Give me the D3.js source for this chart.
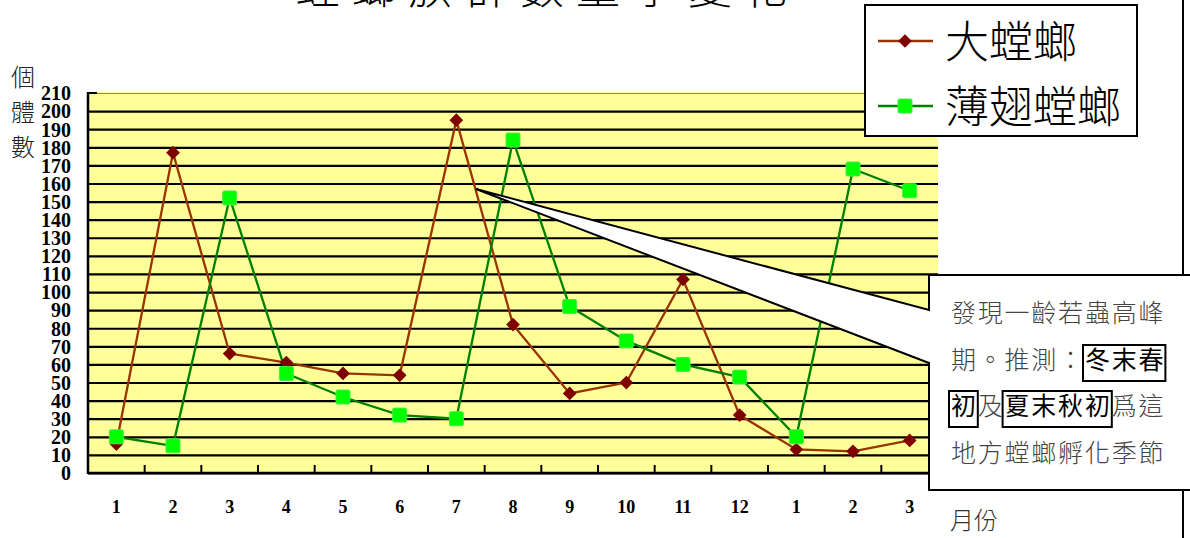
<!DOCTYPE html>
<html>
<head>
<meta charset="utf-8">
<script src="https://cdn.jsdelivr.net/npm/d3@7"></script>
<style>
  html, body { margin: 0; padding: 0; background: #fff; }
  svg { display: block; }
</style>
</head>
<body>
<svg id="chart" width="1190" height="538"></svg>
<script>
// Months of observation (Jan of one year through Mar of the next)
const months = ["1","2","3","4","5","6","7","8","9","10","11","12","1","2","3"];
// Monthly counts of individuals
const bigMantis = [16, 177, 66, 61, 55, 54, 195, 82, 44, 50, 107, 32, 13, 12, 18];
const thinWingMantis = [20, 15, 152, 55, 42, 32, 30, 184, 92, 73, 60, 53, 20, 168, 156];
const seriesNames = ["大螳螂", "薄翅螳螂"];
const yTicks = d3.range(0, 211, 10);

const svg = d3.select("#chart");
const W = 1190, H = 538;
const plot = { left: 88, right: 938, top: 92, bottom: 473 };

const x = d3.scaleBand().domain(d3.range(months.length)).range([plot.left, plot.right]).padding(0);
const y = d3.scaleLinear().domain([0, 210]).range([plot.bottom, plot.top + 1]);
const cx = i => x(i) + x.bandwidth() / 2;

// plot background
svg.append("rect")
  .attr("x", plot.left).attr("y", plot.top)
  .attr("width", plot.right - plot.left).attr("height", plot.bottom - plot.top)
  .attr("fill", "#ffff99");

// horizontal gridlines + y tick labels
const yAxis = d3.axisLeft(y).tickValues(yTicks).tickSize(-(plot.right - plot.left)).tickPadding(17);
const gy = svg.append("g").attr("transform", `translate(${plot.left},0)`).call(yAxis);
gy.select(".domain").remove();
gy.selectAll(".tick line")
  .attr("stroke", d => d === 210 ? "#8a8a60" : "#000")
  .attr("stroke-width", d => d === 210 ? 1 : 2.2);
gy.selectAll(".tick text")
  .attr("font-family", "'Liberation Serif', 'DejaVu Serif', serif")
  .attr("font-weight", "bold")
  .attr("font-size", 20)
  .attr("fill", "#000")
  .attr("dy", "0.34em");

// short inner tick at the top of the value axis
svg.append("line").attr("x1", plot.left).attr("x2", plot.left + 9)
  .attr("y1", y(210)).attr("y2", y(210)).attr("stroke", "#000").attr("stroke-width", 2);

// axis lines
svg.append("line").attr("x1", plot.left).attr("x2", plot.left)
  .attr("y1", plot.top).attr("y2", plot.bottom + 1).attr("stroke", "#000").attr("stroke-width", 2.5);
svg.append("line").attr("x1", plot.left).attr("x2", plot.right)
  .attr("y1", plot.bottom).attr("y2", plot.bottom).attr("stroke", "#000").attr("stroke-width", 2.5);

// category ticks between months (pointing up into the plot)
svg.append("g").selectAll("line")
  .data(d3.range(1, months.length))
  .join("line")
  .attr("x1", i => x(i)).attr("x2", i => x(i))
  .attr("y1", plot.bottom).attr("y2", plot.bottom - 8)
  .attr("stroke", "#000").attr("stroke-width", 2);

// month labels
svg.append("g").selectAll("text")
  .data(months)
  .join("text")
  .attr("x", (d, i) => cx(i))
  .attr("y", 513)
  .attr("text-anchor", "middle")
  .attr("font-family", "'Liberation Serif', 'DejaVu Serif', serif")
  .attr("font-weight", "bold")
  .attr("font-size", 18)
  .attr("fill", "#000")
  .text(d => d);

// series lines
const line = d3.line().x((d, i) => cx(i)).y(d => y(d));
svg.append("path").datum(bigMantis).attr("d", line)
  .attr("fill", "none").attr("stroke", "#993300").attr("stroke-width", 2.3);
svg.append("path").datum(thinWingMantis).attr("d", line)
  .attr("fill", "none").attr("stroke", "#008000").attr("stroke-width", 2.3);

// markers
const diamond = d3.symbol().type(d3.symbolDiamond2).size(120);
svg.append("g").selectAll("path")
  .data(bigMantis)
  .join("path")
  .attr("transform", (d, i) => `translate(${cx(i)},${y(d)})`)
  .attr("d", diamond)
  .attr("fill", "#800000");
svg.append("g").selectAll("rect")
  .data(thinWingMantis)
  .join("rect")
  .attr("x", (d, i) => cx(i) - 7).attr("y", d => y(d) - 7)
  .attr("width", 14).attr("height", 14).attr("rx", 1.5)
  .attr("fill", "#00ff00").attr("stroke", "#44ee44").attr("stroke-width", 1);

// title (runs off the top edge)
svg.append("text")
  .attr("x", 548).attr("y", 4)
  .attr("text-anchor", "middle")
  .attr("font-family", "'Noto Sans CJK TC', sans-serif")
  .attr("font-size", 44)
  .attr("font-weight", 300)
  .attr("letter-spacing", 12)
  .attr("fill", "#000")
  .text("螳螂族群數量季變化");

// vertical axis title
const cjk = "'Noto Sans CJK TC', sans-serif";
svg.append("g").selectAll("text")
  .data(["個", "體", "數"])
  .join("text")
  .attr("x", 23).attr("y", (d, i) => 86 + i * 35)
  .attr("text-anchor", "middle")
  .attr("font-family", cjk)
  .attr("font-weight", 300)
  .attr("font-size", 24)
  .attr("fill", "#222")
  .text(d => d);

// frame line on the right
svg.append("line").attr("x1", 1183).attr("x2", 1183).attr("y1", 0).attr("y2", H)
  .attr("stroke", "#000").attr("stroke-width", 2);

// legend
const lg = svg.append("g");
lg.append("rect").attr("x", 865).attr("y", 5).attr("width", 272).attr("height", 131)
  .attr("fill", "#fff").attr("stroke", "#000").attr("stroke-width", 2);
const legendRows = [
  { name: seriesNames[0], color: "#993300", ly: 41 },
  { name: seriesNames[1], color: "#008000", ly: 106 }
];
legendRows.forEach((r, k) => {
  lg.append("line").attr("x1", 878).attr("x2", 933).attr("y1", r.ly).attr("y2", r.ly)
    .attr("stroke", r.color).attr("stroke-width", 2.3);
  if (k === 0) {
    lg.append("path").attr("transform", `translate(905,${r.ly})`).attr("d", diamond).attr("fill", "#800000");
  } else {
    lg.append("rect").attr("x", 898).attr("y", r.ly - 7).attr("width", 14).attr("height", 14).attr("rx", 1.5)
      .attr("fill", "#00ff00").attr("stroke", "#44ee44");
  }
  lg.append("text").attr("x", 945).attr("y", r.ly + 17)
    .attr("font-family", cjk).attr("font-weight", 300).attr("font-size", 44).attr("fill", "#000")
    .text(r.name);
});

// x-axis title
svg.append("text").attr("x", 950).attr("y", 529)
  .attr("font-family", cjk).attr("font-weight", 300).attr("font-size", 24).attr("fill", "#333")
  .text("月份");

// callout box with pointer wedge
const tip = [476, 189];
svg.append("path")
  .attr("d", `M1200,275 L929,275 L929,310 L${tip[0]},${tip[1]} L929,363 L929,490 L1200,490`)
  .attr("fill", "#fff").attr("stroke", "#000").attr("stroke-width", 2).attr("stroke-linejoin", "miter");

// callout text, character by character; boxed runs are emphasised
const calloutLines = [
  [{ t: "發現一齡若蟲高峰" }],
  [{ t: "期。推測：" }, { t: "冬末春", box: true }],
  [{ t: "初", box: true }, { t: "及" }, { t: "夏末秋初", box: true }, { t: "爲這" }],
  [{ t: "地方螳螂孵化季節" }]
];
const lineY = [322, 369, 415, 462];
const pitch = 26.8, startX = 950, fs = 25;
const cg = svg.append("g");
calloutLines.forEach((segs, li) => {
  let idx = 0;
  segs.forEach(seg => {
    const chars = Array.from(seg.t);
    const x0 = startX + idx * pitch;
    if (seg.box) {
      cg.append("rect")
        .attr("x", x0 - 1).attr("y", lineY[li] - 24)
        .attr("width", chars.length * pitch + 2).attr("height", 36)
        .attr("fill", "none").attr("stroke", "#000").attr("stroke-width", 2);
    }
    chars.forEach((c, j) => {
      cg.append("text")
        .attr("x", x0 + j * pitch + pitch / 2).attr("y", lineY[li])
        .attr("text-anchor", "middle")
        .attr("font-family", cjk)
        .attr("font-weight", seg.box ? 400 : 300)
        .attr("font-size", fs)
        .attr("fill", seg.box ? "#000" : "#444")
        .text(c);
    });
    idx += chars.length;
  });
});
</script>
</body>
</html>
